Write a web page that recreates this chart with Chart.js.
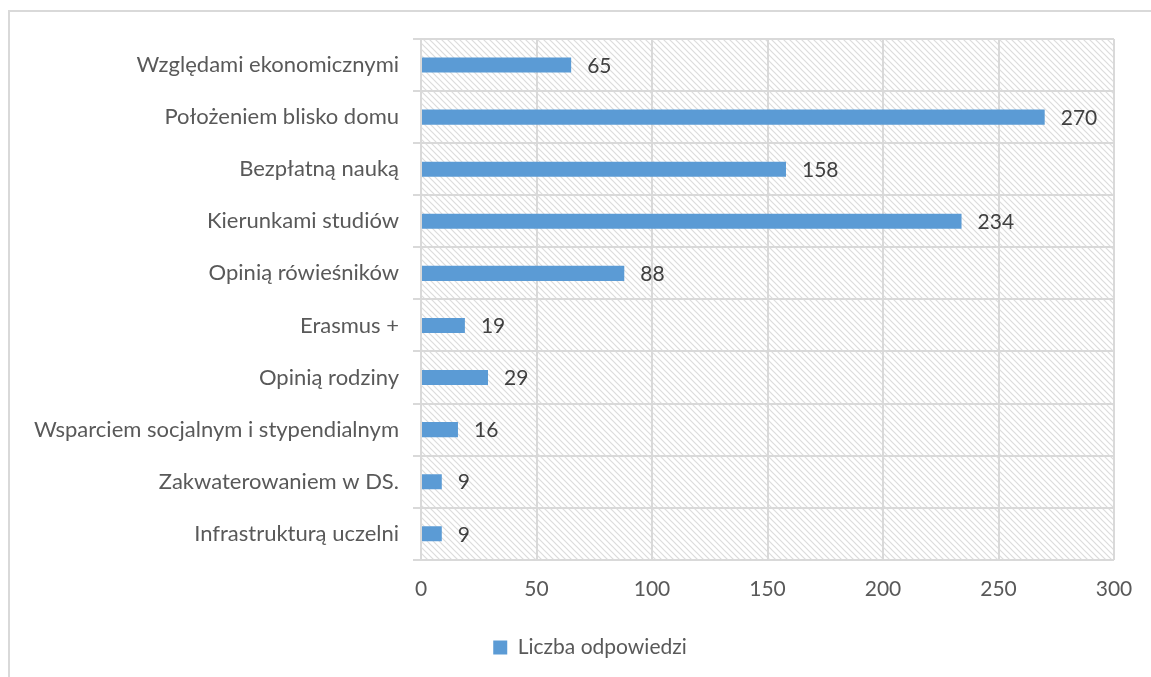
<!DOCTYPE html>
<html>
<head>
<meta charset="utf-8">
<script src="https://cdn.jsdelivr.net/npm/chart.js@4"></script>
<style>
  html, body { margin: 0; padding: 0; background: #fff; overflow: hidden; }
  #frame {
    position: absolute; left: 8px; top: 10px; width: 1160px; height: 700px;
    border-left: 2px solid #d9d9d9; border-top: 2px solid #d9d9d9;
  }
  #wrap { position: absolute; left: 0; top: 0; width: 1151px; height: 677px; overflow: hidden; }
</style>
</head>
<body>
<div id="frame"></div>
<div id="wrap"><canvas id="chart" width="1151" height="668"></canvas></div>
<script>
const categories = [
  "Względami ekonomicznymi",
  "Położeniem blisko domu",
  "Bezpłatną nauką",
  "Kierunkami studiów",
  "Opinią rówieśników",
  "Erasmus +",
  "Opinią rodziny",
  "Wsparciem socjalnym i stypendialnym",
  "Zakwaterowaniem w DS.",
  "Infrastrukturą uczelni"
];
const answers = [65, 270, 158, 234, 88, 19, 29, 16, 9, 9];
const seriesName = "Liczba odpowiedzi";
const xTicks = [0, 50, 100, 150, 200, 250, 300];

const FONT = "Lato, 'Liberation Sans', sans-serif";
const FONT_SIZE = 21;
const gridColor = "#d9d9d9";

// diagonal hatch used to fill the plot area
function makeHatch() {
  const c = document.createElement("canvas");
  c.width = 6; c.height = 6;
  const g = c.getContext("2d");
  g.strokeStyle = "#dcdcdc";
  g.lineWidth = 1.2;
  g.beginPath();
  g.moveTo(-1, -1); g.lineTo(7, 7);
  g.moveTo(-1, 5); g.lineTo(1, 7);
  g.moveTo(5, -1); g.lineTo(7, 1);
  g.stroke();
  return c;
}

const hatchPlugin = {
  id: "hatch",
  beforeDraw(chart) {
    const { ctx, chartArea: a } = chart;
    ctx.save();
    ctx.fillStyle = ctx.createPattern(makeHatch(), "repeat");
    ctx.fillRect(a.left, a.top, a.right - a.left, a.bottom - a.top);
    ctx.restore();
  }
};

// nudge the legend a bit to the right
const legendShift = {
  id: "legendShift",
  afterLayout(chart) {
    if (chart.legend) chart.legend.left += 66;
  }
};

// value written to the right of each bar
const valueLabels = {
  id: "valueLabels",
  afterDatasetsDraw(chart) {
    const { ctx } = chart;
    const meta = chart.getDatasetMeta(0);
    ctx.save();
    ctx.font = FONT_SIZE + "px " + FONT;
    ctx.fillStyle = "#404040";
    ctx.textBaseline = "middle";
    ctx.textAlign = "left";
    meta.data.forEach((bar, i) => {
      ctx.fillText(String(answers[i]), bar.x + 16, bar.y + 1);
    });
    ctx.restore();
  }
};

new Chart(document.getElementById("chart"), {
  type: "bar",
  data: {
    labels: categories,
    datasets: [{
      label: seriesName,
      data: answers,
      backgroundColor: "#5b9bd5",
      borderWidth: 0,
      barPercentage: 0.58,
      categoryPercentage: 0.5
    }]
  },
  options: {
    indexAxis: "y",
    responsive: false,
    animation: false,
    devicePixelRatio: 1,
    layout: { padding: { top: 39, right: 37, bottom: 0, left: 0 } },
    scales: {
      x: {
        min: 0, max: 300,
        afterBuildTicks(scale) { scale.ticks = xTicks.map(v => ({ value: v })); },
        grid: { color: gridColor, lineWidth: 2, drawTicks: false },
        border: { display: false },
        ticks: { color: "#595959", font: { family: FONT, size: FONT_SIZE }, padding: 17 }
      },
      y: {
        grid: { color: gridColor, lineWidth: 2, offset: true, tickLength: 8 },
        border: { display: true, color: gridColor, width: 2 },
        ticks: { color: "#595959", font: { family: FONT, size: 22 }, padding: 14 },
        afterFit(scale) { scale.width = 421; }
      }
    },
    plugins: {
      legend: {
        position: "bottom",
        labels: {
          color: "#595959",
          font: { family: FONT, size: FONT_SIZE },
          boxWidth: 14, boxHeight: 14, padding: 18
        }
      },
      tooltip: { enabled: false }
    }
  },
  plugins: [hatchPlugin, legendShift, valueLabels]
});
</script>
</body>
</html>
